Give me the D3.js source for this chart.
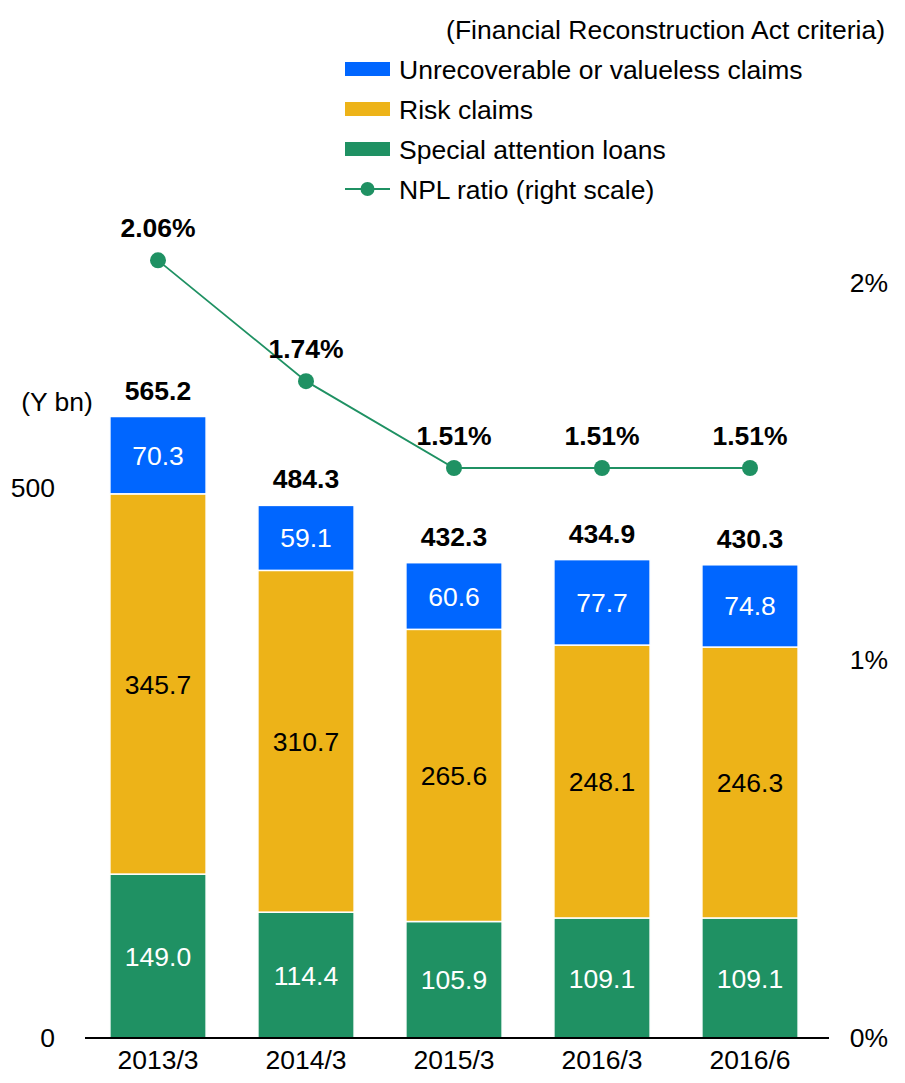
<!DOCTYPE html>
<html lang="en">
<head>
  <meta charset="utf-8">
  <title>NPL claims</title>
  <style>
    body { margin: 0; background: #fff; }
    text { font-family: "Liberation Sans", Arial, sans-serif; }
  </style>
</head>
<body>
  <script src="https://cdnjs.cloudflare.com/ajax/libs/d3/7.8.5/d3.min.js"></script>
  <script type="text/javascript">
  const periods = ["2013/3", "2014/3", "2015/3", "2016/3", "2016/6"];
  const specialLoans = [149.0, 114.4, 105.9, 109.1, 109.1];
  const riskClaims = [345.7, 310.7, 265.6, 248.1, 246.3];
  const unrecoverable = [70.3, 59.1, 60.6, 77.7, 74.8];
  const totals = [565.2, 484.3, 432.3, 434.9, 430.3];
  const nplRatio = [2.06, 1.74, 1.51, 1.51, 1.51];
  const leftTicks = [0, 500];
  const rightTicks = [0, 1, 2];

  const seriesKeys = ["special", "risk", "unrec"];
  const seriesNames = {
    unrec: "Unrecoverable or valueless claims",
    risk: "Risk claims",
    special: "Special attention loans"
  };
  const colors = { unrec: "#0066ff", risk: "#edb318", special: "#1f9163" };
  const labelColors = { unrec: "#fff", risk: "#000", special: "#fff" };
  const lineColor = "#1f9163";

  const rows = periods.map((p, i) => ({
    period: p, special: specialLoans[i], risk: riskClaims[i], unrec: unrecoverable[i]
  }));

  const width = 905, height = 1083;
  const fs = 26.5;

  const svg = d3.select("body")
    .append("svg")
    .attr("width", width)
    .attr("height", height);

  const x = d3.scaleBand()
    .domain(periods)
    .range([84, 824])
    .paddingInner(0.35)
    .paddingOuter(0.175);

  const y = d3.scaleLinear()
    .domain([0, 500])
    .range([1038, 488]);

  const yRight = d3.scaleLinear()
    .domain([0, 2])
    .range([1038, 283]);

  const stacked = d3.stack().keys(seriesKeys)(rows);

  // bars
  const layers = svg.selectAll(".layer")
    .data(stacked)
    .enter()
    .append("g")
    .attr("class", "layer")
    .attr("fill", d => colors[d.key]);

  layers.selectAll("rect")
    .data(d => d)
    .enter()
    .append("rect")
    .attr("x", d => x(d.data.period))
    .attr("width", x.bandwidth())
    .attr("y", d => y(d[1]))
    .attr("height", d => y(d[0]) - y(d[1]))
    .attr("stroke", "#fff")
    .attr("stroke-width", 1.5);

  layers.selectAll(".val")
    .data(d => d.map(v => ({ v, key: d.key })))
    .enter()
    .append("text")
    .attr("class", "val")
    .attr("x", d => x(d.v.data.period) + x.bandwidth() / 2)
    .attr("y", d => (y(d.v[0]) + y(d.v[1])) / 2)
    .attr("dy", "0.36em")
    .attr("text-anchor", "middle")
    .attr("fill", d => labelColors[d.key])
    .style("font-size", fs + "px")
    .text(d => d.v.data[d.key].toFixed(1));

  // totals
  svg.selectAll(".total")
    .data(periods)
    .enter()
    .append("text")
    .attr("class", "total")
    .attr("x", d => x(d) + x.bandwidth() / 2)
    .attr("y", (d, i) => y(d3.sum([specialLoans[i], riskClaims[i], unrecoverable[i]])) - 17)
    .attr("text-anchor", "middle")
    .style("font-size", fs + "px")
    .style("font-weight", "bold")
    .text((d, i) => totals[i].toFixed(1));

  // x axis
  const xAxis = d3.axisBottom(x).tickSize(0).tickPadding(12);
  const xg = svg.append("g")
    .attr("transform", `translate(0, ${y(0)})`)
    .call(xAxis);
  xg.select(".domain").remove();
  xg.selectAll("text")
    .style("font-size", fs + "px")
    .attr("fill", "#000");
  svg.append("line")
    .attr("x1", 85).attr("x2", 829)
    .attr("y1", y(0)).attr("y2", y(0))
    .attr("stroke", "#000")
    .attr("stroke-width", 2);

  // left axis
  const yAxis = d3.axisLeft(y).tickValues(leftTicks).tickSize(0).tickPadding(0);
  const yg = svg.append("g")
    .attr("transform", "translate(55, 0)")
    .call(yAxis);
  yg.select(".domain").remove();
  yg.selectAll("text")
    .style("font-size", fs + "px")
    .attr("fill", "#000");

  svg.append("text")
    .attr("x", 57)
    .attr("y", 411)
    .attr("text-anchor", "middle")
    .style("font-size", fs + "px")
    .text("(Y bn)");

  // right axis
  const yAxisR = d3.axisRight(yRight).tickValues(rightTicks)
    .tickFormat(d => d + "%").tickSize(0).tickPadding(0);
  const yr = svg.append("g")
    .attr("transform", "translate(888, 0)")
    .call(yAxisR);
  yr.select(".domain").remove();
  yr.selectAll("text")
    .attr("text-anchor", "end")
    .style("font-size", fs + "px")
    .attr("fill", "#000");

  // NPL line
  const line = d3.line()
    .x((d, i) => x(periods[i]) + x.bandwidth() / 2)
    .y(d => yRight(d));

  svg.append("path")
    .datum(nplRatio)
    .attr("d", line)
    .attr("fill", "none")
    .attr("stroke", lineColor)
    .attr("stroke-width", 1.8);

  svg.selectAll(".dot")
    .data(nplRatio)
    .enter()
    .append("circle")
    .attr("class", "dot")
    .attr("cx", (d, i) => x(periods[i]) + x.bandwidth() / 2)
    .attr("cy", d => yRight(d))
    .attr("r", 8)
    .attr("fill", lineColor);

  svg.selectAll(".pct")
    .data(nplRatio)
    .enter()
    .append("text")
    .attr("class", "pct")
    .attr("x", (d, i) => x(periods[i]) + x.bandwidth() / 2)
    .attr("y", d => yRight(d) - 23)
    .attr("text-anchor", "middle")
    .style("font-size", fs + "px")
    .style("font-weight", "bold")
    .text(d => d.toFixed(2) + "%");

  // legend
  svg.append("text")
    .attr("x", 885)
    .attr("y", 39)
    .attr("text-anchor", "end")
    .style("font-size", fs + "px")
    .text("(Financial Reconstruction Act criteria)");

  const legendKeys = ["unrec", "risk", "special", "npl"];
  const legend = svg.selectAll(".legend")
    .data(legendKeys)
    .enter()
    .append("g")
    .attr("class", "legend")
    .attr("transform", (d, i) => `translate(0, ${69 + i * 40})`);

  legend.filter(d => d !== "npl")
    .append("rect")
    .attr("x", 345)
    .attr("y", -7)
    .attr("width", 45)
    .attr("height", 14)
    .attr("fill", d => colors[d]);

  const nplLegend = legend.filter(d => d === "npl");
  nplLegend.append("line")
    .attr("x1", 345).attr("x2", 390)
    .attr("y1", 0).attr("y2", 0)
    .attr("stroke", lineColor)
    .attr("stroke-width", 1.8);
  nplLegend.append("circle")
    .attr("cx", 367.5)
    .attr("cy", 0)
    .attr("r", 7)
    .attr("fill", lineColor);

  legend.append("text")
    .attr("x", 399)
    .attr("y", 0)
    .attr("dy", "0.36em")
    .style("font-size", fs + "px")
    .text(d => d === "npl" ? "NPL ratio (right scale)" : seriesNames[d]);
  </script>
</body>
</html>
